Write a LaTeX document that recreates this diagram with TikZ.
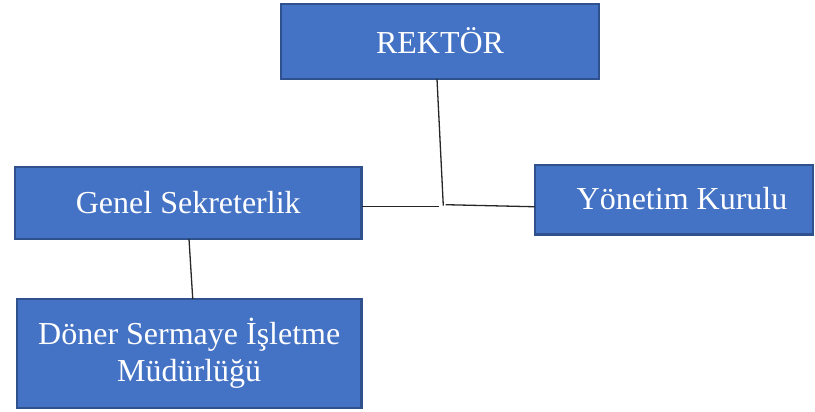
\documentclass[tikz,border=0pt]{standalone}
\usepackage{fontspec}
\setmainfont{Liberation Serif}
\definecolor{boxfill}{HTML}{4472C4}
\definecolor{boxline}{HTML}{2F528F}
\begin{document}
\begin{tikzpicture}[x=1pt,y=-1pt,
  orgbox/.style={draw=boxline, fill=boxfill, line width=2.2pt, text=white,
    inner sep=0pt, outer sep=0pt, align=center,
    font=\fontsize{32}{37}\selectfont},
  conn/.style={draw=black!85, line width=1.3pt}]
\useasboundingbox (0,0) rectangle (815,412);
\node[orgbox, minimum width=318pt, minimum height=75pt] (rek) at (440,41.5) {\raisebox{2pt}{REKTÖR}};
\node[orgbox, minimum width=346.5pt, minimum height=72pt] (gen) at (188.25,203) {Genel Sekreterlik};
\node[orgbox, minimum width=278pt, minimum height=69.5pt] (yon) at (674,199.75) {\hspace*{16pt}\raisebox{3pt}{Yönetim Kurulu}};
\node[orgbox, minimum width=344.5pt, minimum height=109.3pt] (don) at (189.25,353.7) {Döner Sermaye İşletme\\Müdürlüğü};
\coordinate (jv) at (443.3,205.7);
\coordinate (jl) at (439.3,206.7);
\coordinate (jr) at (445.7,204.7);
\draw[conn] ([xshift=-3pt]rek.south) -- (jv);
\draw[conn] ([yshift=-3.7pt]gen.east) -- (jl);
\draw[conn] (jr) -- ([yshift=-7pt]yon.west);
\draw[conn] ([xshift=0.75pt]gen.south) -- ([xshift=3.5pt]don.north);
\end{tikzpicture}
\end{document}
